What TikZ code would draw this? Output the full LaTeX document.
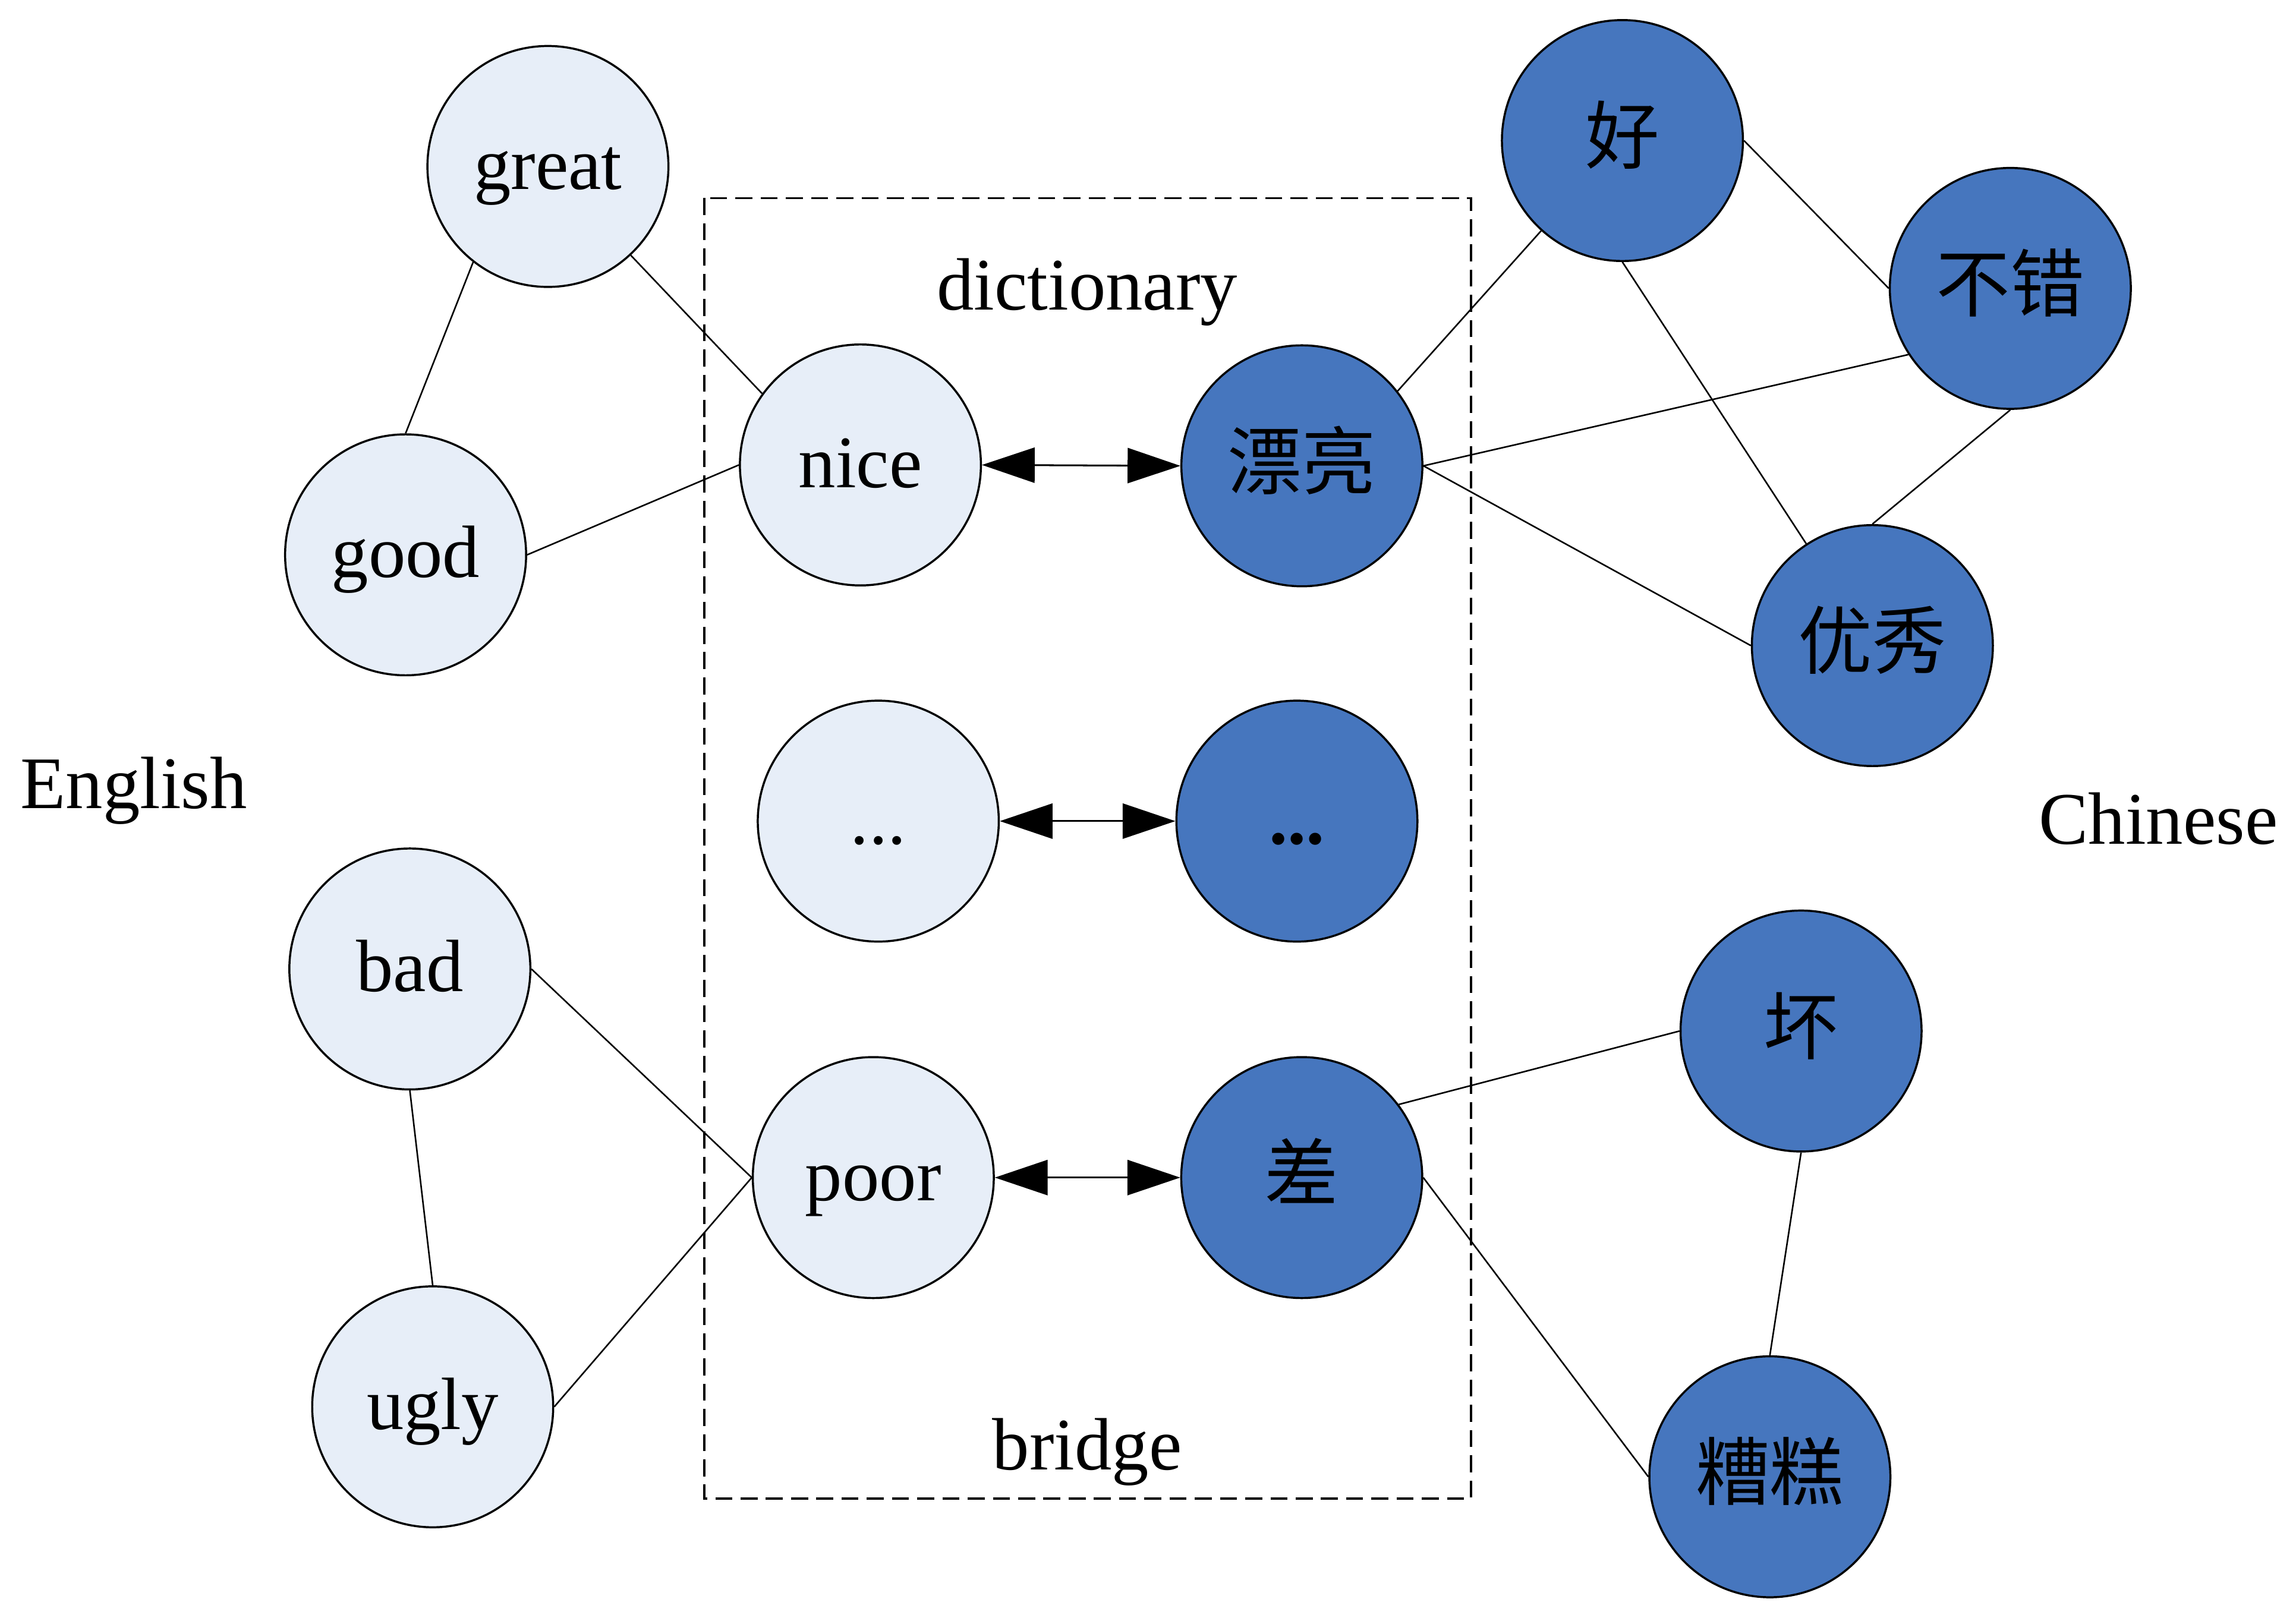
\documentclass[tikz,border=0pt]{standalone}
\usepackage{fontspec}
\setmainfont{Liberation Serif}
\newfontfamily\cjk{Noto Sans CJK SC}
\usetikzlibrary{arrows.meta}
\definecolor{lightnode}{HTML}{E7EEF8}
\definecolor{darknode}{HTML}{4676BE}
\tikzset{
  word/.style={circle, draw=black, line width=0.4pt, minimum size=1.645cm, inner sep=0pt,
    font=\fontsize{14.4}{17}\selectfont, text height=0.36cm, text depth=0.05cm},
  enword/.style={word, fill=lightnode},
  zhword/.style={word, fill=darknode, font=\fontsize{14.4}{17}\selectfont\cjk},
  link/.style={line width=0.3pt},
  bilink/.style={line width=0.35pt, {Triangle[length=3.6mm,width=2.4mm]}-{Triangle[length=3.6mm,width=2.4mm]}},
  label/.style={font=\fontsize{14.4}{17}\selectfont, anchor=base, inner sep=0pt},
  bridgebox/.style={draw, line width=0.4pt, dash pattern=on 3.3pt off 1.6pt}
}
\begin{document}
\begin{tikzpicture}[x=0.01cm, y=-0.01cm]
\useasboundingbox (0,0) rectangle (1568,1105);
% dashed box
\draw[bridgebox] (480.9,135.3) rectangle (1004.7,1023.7);
% labels
\node[label] (dict) at (742.5,211.7) {dictionary};
\node[label] (bridge) at (742.5,1003.9) {bridge};
\node[label] (english) at (91.4,552.3) {English};
\node[label] (chinese) at (1474,576.4) {Chinese};
% English nodes
\node[enword] (great) at (374.2,113.7) {great};
\node[enword] (good) at (277,379) {good};
\node[enword] (nice) at (587.6,317.6) {nice};
\node[enword] (dotsL) at (599.8,560.9) {...};
\node[enword] (bad) at (279.9,661.9) {bad};
\node[enword] (poor) at (596.4,804.4) {poor};
\node[enword] (ugly) at (295.5,961) {ugly};
% Chinese nodes
\node[zhword] (piaoliang) at (889.1,318.2) {漂亮};
\node[zhword, font=\fontsize{14.4}{17}\selectfont\bfseries] (dotsR) at (885.7,560.9) {...};
\node[zhword] (cha) at (889,804.4) {差};
\node[zhword] (hao) at (1108,96) {好};
\node[zhword] (bucuo) at (1372.9,197) {不错};
\node[zhword] (youxiu) at (1278.7,441) {优秀};
\node[zhword] (huai) at (1230,704.3) {坏};
\node[zhword] (zaogao) at (1208.7,1008.8) {糟糕};
% English links
\draw[link] (great.232) -- (good.north);
\draw[link] (great.313) -- (nice.144);
\draw[link] (good.east) -- (nice.west);
\draw[link] (bad.east) -- (poor.west);
\draw[link] (bad.south) -- (ugly.north);
\draw[link] (ugly.east) -- (poor.west);
% Chinese links
\draw[link] (piaoliang.38.6) -- (hao.228.4);
\draw[link] (piaoliang.east) -- (bucuo.213.7);
\draw[link] (piaoliang.east) -- (youxiu.west);
\draw[link] (hao.east) -- (bucuo.west);
\draw[link] (hao.south) -- (youxiu.123.6);
\draw[link] (bucuo.south) -- (youxiu.north);
\draw[link] (cha.37.4) -- (huai.west);
\draw[link] (cha.east) -- (zaogao.west);
\draw[link] (huai.south) -- (zaogao.north);
% dictionary links
\draw[bilink] (nice.east) -- (piaoliang.west);
\draw[bilink] (dotsL.east) -- (dotsR.west);
\draw[bilink] (poor.east) -- (cha.west);
\end{tikzpicture}
\end{document}
